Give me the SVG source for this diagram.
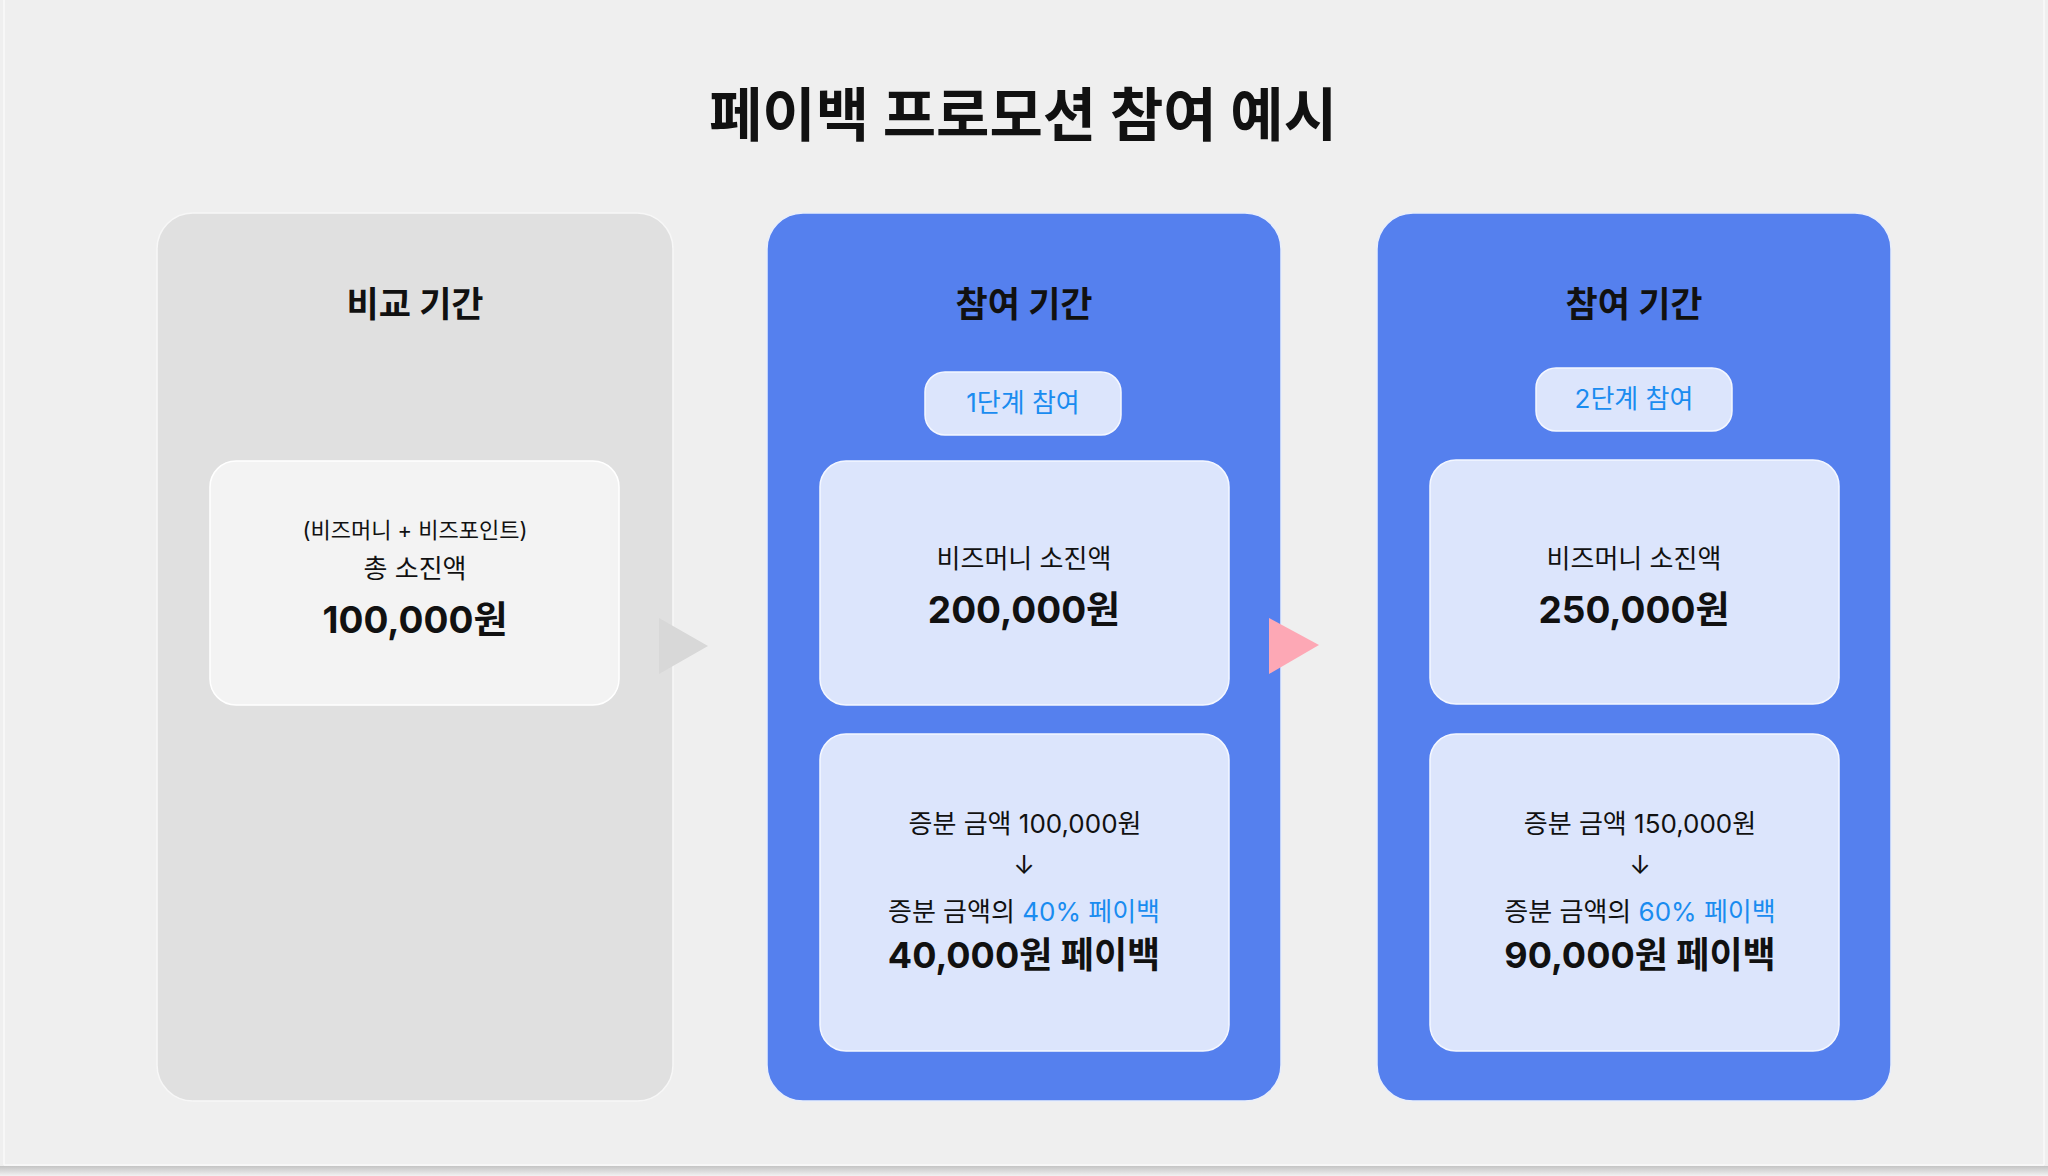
<svg xmlns="http://www.w3.org/2000/svg" width="2048" height="1176" viewBox="0 0 2048 1176">
<defs>
<linearGradient id="shadow" x1="0" y1="0" x2="0" y2="1">
<stop offset="0" stop-color="#c4c4c4"/>
<stop offset="1" stop-color="#f2f2f2"/>
</linearGradient>
<style>
text{font-family:Inter,"Noto Sans CJK KR","Noto Sans",sans-serif;text-anchor:middle;fill:#111}
.title{font-size:58px;font-weight:700}
.head{font-size:35px;font-weight:700}
.sm{font-size:22px}
.md{font-size:26px}
.big{font-size:37px;font-weight:700}
.big2{font-size:36px;font-weight:700}
.badge-t{font-size:26px;fill:#1a8cf0}
.hl{fill:#1a8cf0}
.col-gray{fill:#e0e0e0;stroke:#f7f7f7;stroke-width:1.5}
.col-blue{fill:#5580ee;stroke:#e8eefc;stroke-width:1.5}
.box-gray{fill:#f3f3f3;stroke:#ffffff;stroke-width:1.5}
.box-blue{fill:#dce5fc;stroke:#f4f7ff;stroke-width:1.5}
</style>
</defs>
<rect x="0" y="0" width="2048" height="1176" fill="#efefef"/>
<rect x="0" y="1166" width="2048" height="10" fill="url(#shadow)"/>
<line x1="4" y1="0" x2="4" y2="1165" stroke="#fafafa" stroke-width="1.5"/>
<line x1="2044" y1="0" x2="2044" y2="1165" stroke="#fafafa" stroke-width="1.5"/>
<line x1="4" y1="1165" x2="2044" y2="1165" stroke="#fafafa" stroke-width="1.5"/>

<text class="title" x="1023" y="136">페이백 프로모션 참여 예시</text>

<g id="col-compare">
<rect class="col-gray" x="157" y="213" width="516" height="888" rx="36"/>
<text class="head" x="415" y="317">비교 기간</text>
</g>
<g id="box-compare">
<rect class="box-gray" x="210" y="461" width="409" height="244" rx="26"/>
<text class="sm" x="415" y="538">(비즈머니 + 비즈포인트)</text>
<text class="md" x="415" y="578">총 소진액</text>
<text class="big" x="415" y="633">100,000원</text>
</g>

<g id="col-stage1">
<rect class="col-blue" x="767" y="213" width="514" height="888" rx="36"/>
<text class="head" x="1024" y="317">참여 기간</text>
</g>
<g id="badge-stage1">
<rect class="box-blue" x="925" y="372" width="196" height="63" rx="20"/>
<text class="badge-t" x="1023" y="412">1단계 참여</text>
</g>
<g id="spend-stage1">
<rect class="box-blue" x="820" y="461" width="409" height="244" rx="26"/>
<text class="md" x="1024" y="568">비즈머니 소진액</text>
<text class="big" x="1024" y="623">200,000원</text>
</g>
<g id="payback-stage1">
<rect class="box-blue" x="820" y="734" width="409" height="317" rx="26"/>
<text class="md" x="1025" y="833">증분 금액 100,000원</text>
<text class="md" x="1024" y="874">↓</text>
<text class="md" x="1024" y="921">증분 금액의 <tspan class="hl">40% 페이백</tspan></text>
<text class="big2" x="1024" y="968">40,000원 페이백</text>
</g>

<g id="col-stage2">
<rect class="col-blue" x="1377" y="213" width="514" height="888" rx="36"/>
<text class="head" x="1634" y="317">참여 기간</text>
</g>
<g id="badge-stage2">
<rect class="box-blue" x="1536" y="368" width="196" height="63" rx="20"/>
<text class="badge-t" x="1634" y="408">2단계 참여</text>
</g>
<g id="spend-stage2">
<rect class="box-blue" x="1430" y="460" width="409" height="244" rx="26"/>
<text class="md" x="1634" y="568">비즈머니 소진액</text>
<text class="big" x="1634" y="623">250,000원</text>
</g>
<g id="payback-stage2">
<rect class="box-blue" x="1430" y="734" width="409" height="317" rx="26"/>
<text class="md" x="1640" y="833">증분 금액 150,000원</text>
<text class="md" x="1640" y="874">↓</text>
<text class="md" x="1640" y="921">증분 금액의 <tspan class="hl">60% 페이백</tspan></text>
<text class="big2" x="1640" y="968">90,000원 페이백</text>
</g>

<g id="connectors">
<polygon points="659,618 659,674 708,646" fill="#d8d8d8"/>
<polygon points="1269,618 1269,674 1319,645" fill="#fda8b5"/>
</g>
</svg>
